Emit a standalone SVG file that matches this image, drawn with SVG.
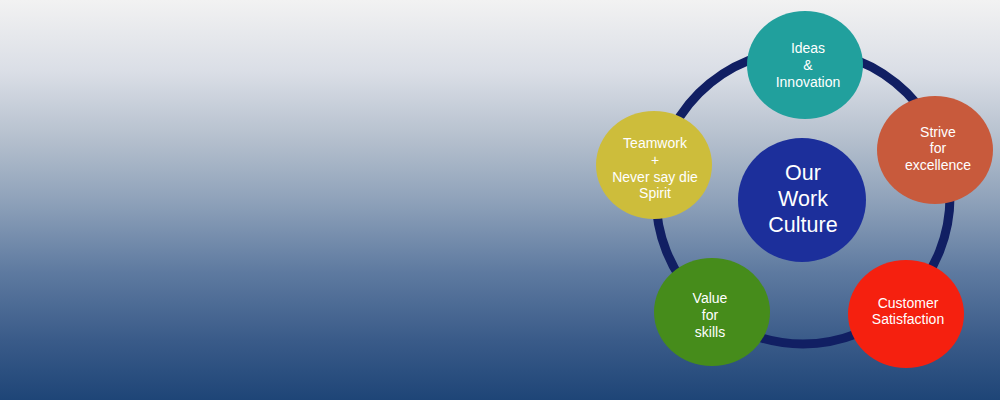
<svg xmlns="http://www.w3.org/2000/svg" width="1000" height="400" viewBox="0 0 1000 400">
<defs>
<linearGradient id="bg" x1="0" y1="0" x2="0" y2="1">
<stop offset="0" stop-color="#f2f2f2"/>
<stop offset="0.18" stop-color="#dadee6"/>
<stop offset="0.35" stop-color="#b4bfcd"/>
<stop offset="0.5" stop-color="#8fa2ba"/>
<stop offset="0.68" stop-color="#5e7aa0"/>
<stop offset="0.85" stop-color="#3a5b89"/>
<stop offset="1" stop-color="#1e4577"/>
</linearGradient>
<style>
.lbl{font-family:"Liberation Sans",Arial,sans-serif;font-size:14px;fill:#ffffff;text-anchor:middle}
.big{font-family:"Liberation Sans",Arial,sans-serif;font-size:21.5px;fill:#ffffff;text-anchor:middle}
</style>
</defs>
<rect width="1000" height="400" fill="url(#bg)"/>
<g id="connectors">
<circle cx="803" cy="197" r="147" fill="none" stroke="#111f63" stroke-width="9"/>
</g>
<g id="center">
<ellipse cx="802" cy="200" rx="64" ry="62" fill="#1c2f9b"/>
<text class="big" x="803" y="180">Our</text>
<text class="big" x="803" y="206">Work</text>
<text class="big" x="803" y="232">Culture</text>
</g>
<g id="ideas">
<ellipse cx="805" cy="65" rx="58" ry="54" fill="#21a09d"/>
<text class="lbl" x="808" y="53">Ideas</text>
<text class="lbl" x="808" y="70">&amp;</text>
<text class="lbl" x="808" y="87">Innovation</text>
</g>
<g id="strive">
<ellipse cx="935" cy="150" rx="58" ry="54" fill="#c85a3c"/>
<text class="lbl" x="938" y="137">Strive</text>
<text class="lbl" x="938" y="153">for</text>
<text class="lbl" x="938" y="170">excellence</text>
</g>
<g id="teamwork">
<ellipse cx="654" cy="165" rx="58" ry="54" fill="#cdbd3b"/>
<text class="lbl" x="655" y="148">Teamwork</text>
<text class="lbl" x="655" y="165">+</text>
<text class="lbl" x="655" y="182">Never say die</text>
<text class="lbl" x="655" y="198">Spirit</text>
</g>
<g id="value">
<ellipse cx="712" cy="312" rx="58" ry="54" fill="#468c1b"/>
<text class="lbl" x="710" y="303">Value</text>
<text class="lbl" x="710" y="320">for</text>
<text class="lbl" x="710" y="337">skills</text>
</g>
<g id="customer">
<ellipse cx="906" cy="314" rx="58" ry="54" fill="#f5200f"/>
<text class="lbl" x="908" y="308">Customer</text>
<text class="lbl" x="908" y="324">Satisfaction</text>
</g>
</svg>
